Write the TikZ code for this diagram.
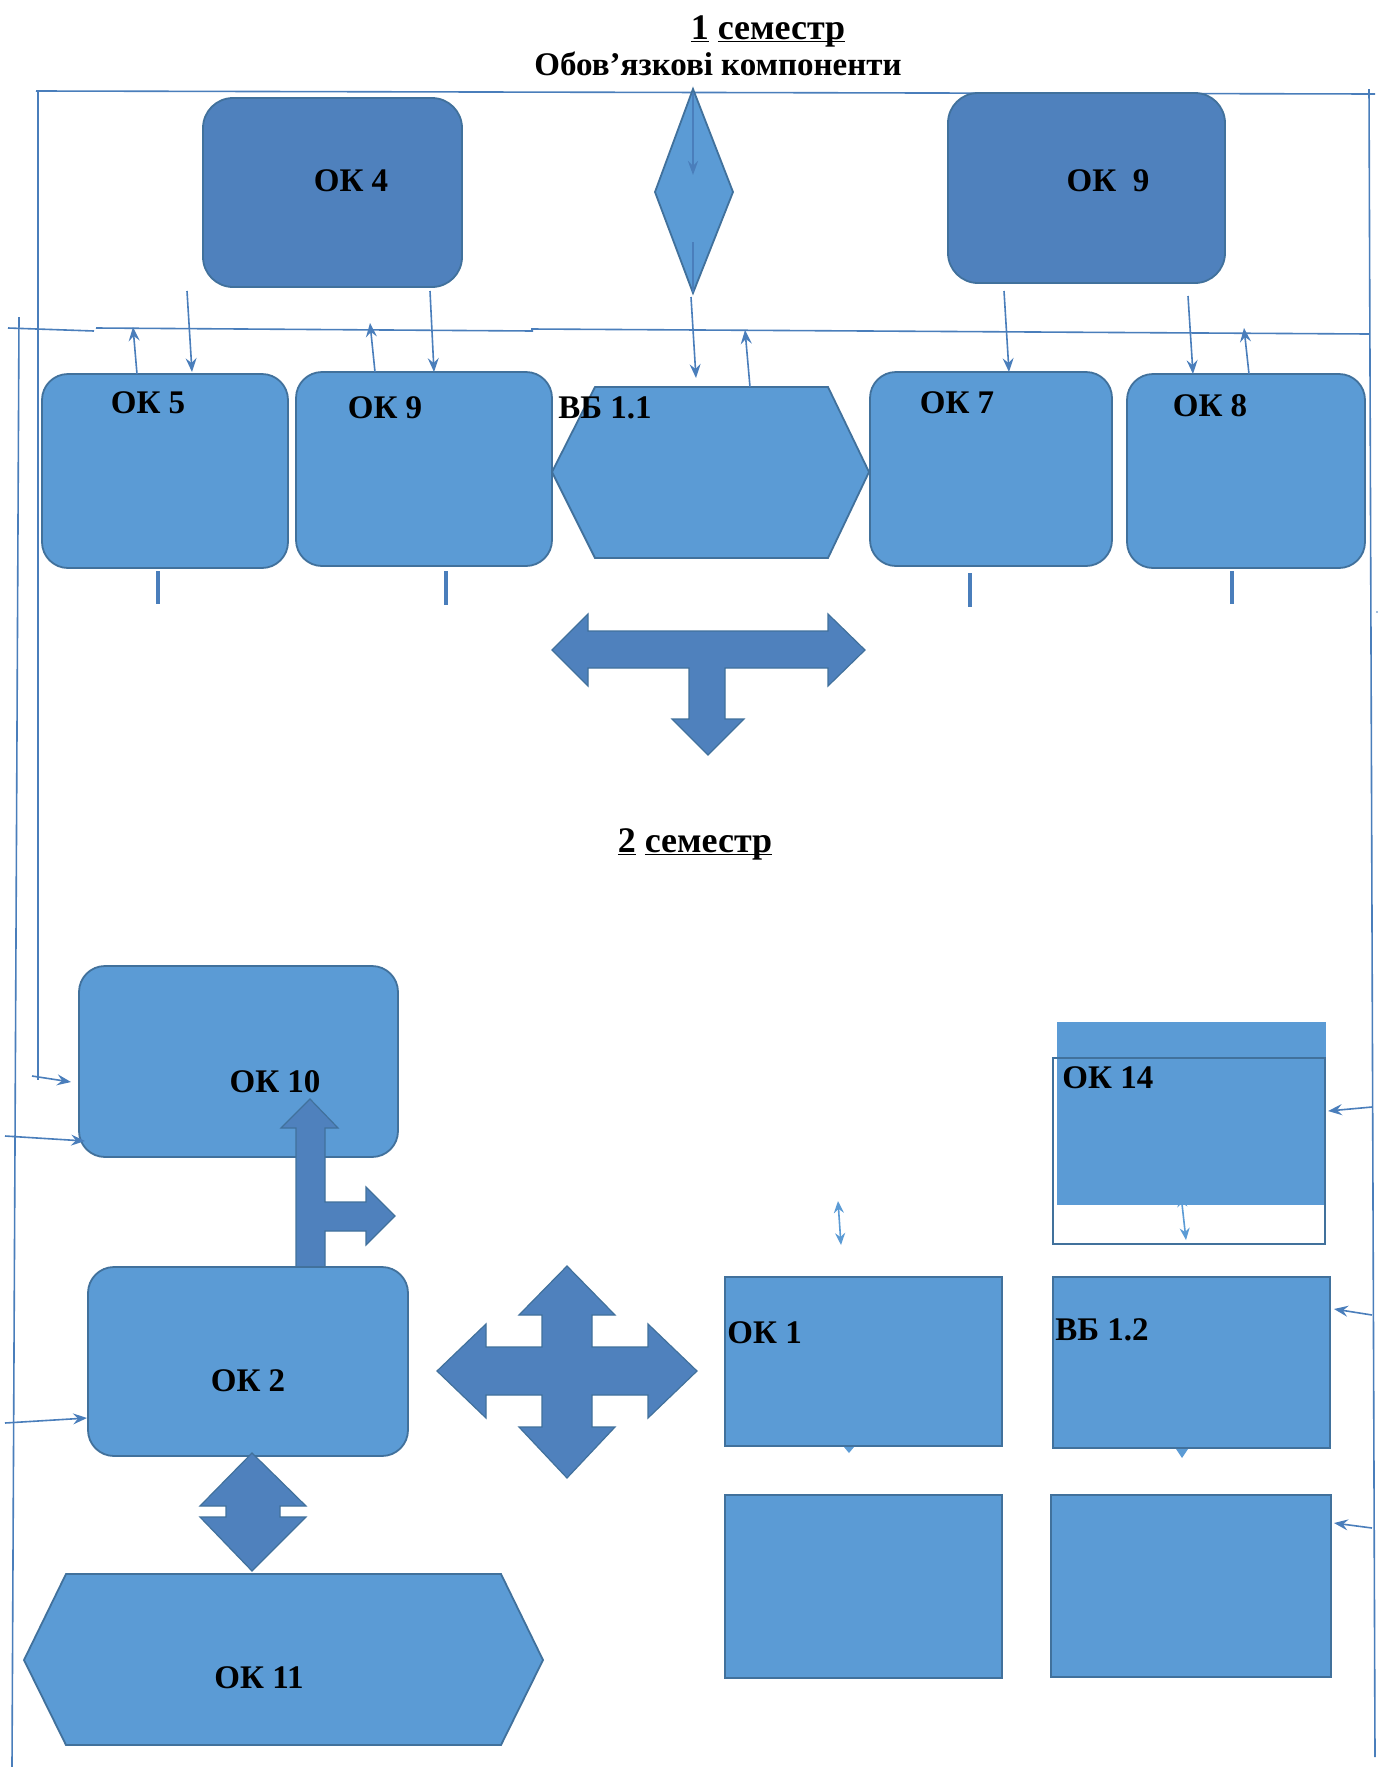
\documentclass[tikz,border=0pt]{standalone}
\usepackage{fontspec}
\setmainfont{Liberation Serif}
\usetikzlibrary{arrows.meta,fit}
\definecolor{darkfill}{RGB}{79,129,189}
\definecolor{lightfill}{RGB}{91,155,213}
\definecolor{bordc}{RGB}{65,113,156}
\definecolor{linec}{RGB}{74,126,187}
\newcommand\myul[1]{\underline{\smash{#1}}}
\begin{document}
\begin{tikzpicture}[x=0.5pt,y=-0.5pt,
  rbox/.style={draw=bordc, line width=0.9pt, fill=lightfill, rounded corners=13pt, inner sep=0pt, outer sep=0pt},
  dbox/.style={rbox, fill=darkfill, rounded corners=15pt},
  sbox/.style={draw=bordc, line width=1pt, fill=lightfill, inner sep=0pt, outer sep=0pt},
  lbl/.style={font=\fontsize{16.5}{18}\selectfont\bfseries, inner sep=0pt, anchor=base},
  ttl/.style={font=\fontsize{18}{20}\selectfont\bfseries, inner sep=0pt, anchor=base},
  conn/.style={draw=linec, line width=0.8pt, -{Stealth[length=7pt,width=5.5pt,inset=2.5pt]}},
  dbl/.style={draw=lightfill, line width=0.8pt, {Stealth[length=6pt,width=5pt,inset=2pt]}-{Stealth[length=6pt,width=5pt,inset=2pt]}},
  tick/.style={draw=linec, line width=2pt},
  frame/.style={draw=linec, line width=0.8pt},
  barrow/.style={draw=bordc, line width=0.6pt, fill=darkfill, line join=miter},
  hexa/.style={draw=bordc, line width=0.9pt, fill=lightfill, line join=miter}]

\useasboundingbox[fill=white] (0,0) rectangle (1385,1767);

% ---------- titles ----------
\node[ttl] (sem1) at (768,39) {\myul{1} \myul{семестр}};
\node[lbl] (obov) at (718,75) {Обов’язкові компоненти};
\node[ttl] (sem2) at (695,852) {\myul{2} \myul{семестр}};

% ---------- frame lines ----------
\coordinate (ftl) at (36,91);   \coordinate (ftr) at (1375,94);
\coordinate (frt) at (1369,89); \coordinate (frb) at (1375,1757);
\coordinate (fli) at (38,91);   \coordinate (flib) at (38,1080);
\coordinate (flo) at (19,317);  \coordinate (flob) at (12,1767);
\draw[frame] (ftl) -- (ftr);
\draw[frame] (frt) -- (frb);
\draw[frame] (fli) -- (flib);
\draw[frame] (flo) -- (flob);
\coordinate (d1a) at (8,328);   \coordinate (d1b) at (94,331);
\coordinate (d2a) at (96,328);  \coordinate (d2b) at (533,331);
\coordinate (d3a) at (531,329); \coordinate (d3b) at (1369,334);
\draw[frame] (d1a) -- (d1b);
\draw[frame] (d2a) -- (d2b);
\draw[frame] (d3a) -- (d3b);
\fill[linec] (1377,612) circle (0.8);

% ---------- semester 1, top row ----------
\node[dbox, fit={(203,98) (462,287)}] (ok4) {};
\node[lbl] (ok4t) at (351,191) {ОК 4};
\node[dbox, fit={(948,93) (1225,283)}] (ok9a) {};
\node[lbl] (ok9at) at (1108,191) {ОК\ \ 9};

\draw[hexa] (693,89) -- (733,192) -- (693,293) -- (655,192) -- cycle;
\coordinate (dm1) at (693,93);  \coordinate (dm2) at (693,175);
\coordinate (dm3) at (693,242); \coordinate (dm4) at (693,292);
\draw[draw=linec, line width=1.2pt, -{Stealth[length=7pt,width=5pt,inset=2.5pt]}] (dm1) -- (dm2);
\draw[draw=linec, line width=1.2pt] (dm3) -- (dm4);

% ---------- semester 1, second row ----------
\node[rbox, fit={(42,374) (288,568)}] (ok5) {};
\node[lbl] (ok5t) at (148,413) {ОК 5};
\node[rbox, fit={(296,372) (552,566)}] (ok9b) {};
\node[lbl] (ok9bt) at (385,418) {ОК 9};
\draw[hexa] (552,472) -- (595,387) -- (828,387) -- (869,472) -- (828,558) -- (595,558) -- cycle;
\node[lbl, anchor=base west] (vb11t) at (558,418) {ВБ 1.1};
\node[rbox, fit={(870,372) (1112,566)}] (ok7) {};
\node[lbl] (ok7t) at (957,413) {ОК 7};
\node[rbox, fit={(1127,374) (1365,568)}] (ok8) {};
\node[lbl] (ok8t) at (1210,416) {ОК 8};

% connectors between rows
\coordinate (a1s) at (187,291);  \coordinate (a1e) at (192,372);
\coordinate (a2s) at (430,291);  \coordinate (a2e) at (434,372);
\coordinate (u1s) at (137,374);  \coordinate (u1e) at (133,327);
\coordinate (u2s) at (375,372);  \coordinate (u2e) at (370,323);
\coordinate (a3s) at (691,297);  \coordinate (a3e) at (696,378);
\coordinate (u3s) at (750,387);  \coordinate (u3e) at (745,330);
\coordinate (a4s) at (1004,291); \coordinate (a4e) at (1009,372);
\coordinate (a5s) at (1188,296); \coordinate (a5e) at (1193,374);
\coordinate (u4s) at (1249,374); \coordinate (u4e) at (1244,328);
\foreach \s/\e in {a1s/a1e,a2s/a2e,u1s/u1e,u2s/u2e,a3s/a3e,u3s/u3e,a4s/a4e,a5s/a5e,u4s/u4e}
  \draw[conn] (\s) -- (\e);

% ticks under boxes
\coordinate (k1a) at (158,571);  \coordinate (k1b) at (158,604);
\coordinate (k2a) at (446,571);  \coordinate (k2b) at (446,605);
\coordinate (k3a) at (970,573);  \coordinate (k3b) at (970,607);
\coordinate (k4a) at (1232,571); \coordinate (k4b) at (1232,604);
\draw[tick] (k1a) -- (k1b);
\draw[tick] (k2a) -- (k2b);
\draw[tick] (k3a) -- (k3b);
\draw[tick] (k4a) -- (k4b);

% T block arrow
\draw[barrow] (552,650) -- (588,614) -- (588,631) -- (828,631) -- (828,614) -- (865,650)
  -- (828,686) -- (828,668) -- (725,668) -- (725,719) -- (744,719) -- (708,755)
  -- (672,719) -- (689,719) -- (689,668) -- (588,668) -- (588,686) -- cycle;

% ---------- semester 2 ----------
\node[rbox, fit={(79,966) (398,1157)}] (ok10) {};
\node[lbl] (ok10t) at (275,1092) {ОК 10};

% up/right block arrow from OK2 to OK10
\draw[barrow] (296,1267) -- (296,1128) -- (281,1128) -- (310,1099) -- (338,1128) -- (325,1128)
  -- (325,1202) -- (366,1202) -- (366,1187) -- (395,1216) -- (366,1245) -- (366,1231)
  -- (325,1231) -- (325,1267) -- cycle;

\node[rbox, fit={(88,1267) (408,1456)}] (ok2) {};
\node[lbl] (ok2t) at (248,1391) {ОК 2};

% four-way block arrow
\draw[barrow] (567,1266) -- (615,1315) -- (592,1315) -- (592,1347) -- (648,1347) -- (648,1324)
  -- (697,1371) -- (648,1418) -- (648,1395) -- (592,1395) -- (592,1427) -- (615,1427)
  -- (567,1478) -- (519,1427) -- (542,1427) -- (542,1395) -- (486,1395) -- (486,1418)
  -- (437,1371) -- (486,1324) -- (486,1347) -- (542,1347) -- (542,1315) -- (519,1315) -- cycle;

% up-down block arrow
\draw[barrow] (252,1453) -- (306,1506) -- (280,1506) -- (280,1517) -- (306,1517) -- (252,1571)
  -- (200,1517) -- (226,1517) -- (226,1506) -- (200,1506) -- cycle;

% OK 11 hexagon
\draw[hexa] (24,1660) -- (66,1574) -- (501,1574) -- (543,1660) -- (501,1745) -- (66,1745) -- cycle;
\node[lbl] (ok11t) at (259,1688) {ОК 11};

% right column
\fill[lightfill] (1057,1022) rectangle (1326,1205);
\node[draw=bordc, line width=1pt, inner sep=0pt, outer sep=0pt, fit={(1053,1058) (1325,1244)}] (ok14) {};
\node[lbl, anchor=base west] (ok14t) at (1062,1088) {ОК 14};

\node[sbox, fit={(725,1277) (1002,1446)}] (ok1) {};
\node[lbl, anchor=base west] (ok1t) at (727,1343) {ОК 1};
\node[sbox, fit={(1053,1277) (1330,1448)}] (vb12) {};
\node[lbl, anchor=base west] (vb12t) at (1055,1340) {ВБ 1.2};
\node[sbox, fit={(725,1495) (1002,1678)}] (bx1) {};
\node[sbox, fit={(1051,1495) (1331,1677)}] (bx2) {};

% tiny arrow remnants below OK1 / ВБ1.2
\fill[lightfill] (844,1447) -- (854,1447) -- (849,1453) -- cycle;
\fill[lightfill] (1176,1449) -- (1188,1449) -- (1182,1458) -- cycle;

% small double arrows
\coordinate (db1a) at (838,1201); \coordinate (db1b) at (841,1245);
\coordinate (db2a) at (1181,1195); \coordinate (db2b) at (1186,1240);
\draw[dbl] (db1a) -- (db1b);
\draw[dbl] (db2a) -- (db2b);

% side connectors
\coordinate (l1s) at (32,1076);  \coordinate (l1e) at (71,1082);
\coordinate (l2s) at (5,1136);   \coordinate (l2e) at (85,1141);
\coordinate (l3s) at (5,1423);   \coordinate (l3e) at (87,1418);
\coordinate (r1s) at (1372,1107); \coordinate (r1e) at (1328,1111);
\coordinate (r2s) at (1372,1315); \coordinate (r2e) at (1334,1309);
\coordinate (r3s) at (1372,1528); \coordinate (r3e) at (1334,1523);
\foreach \s/\e in {l1s/l1e,l2s/l2e,l3s/l3e,r1s/r1e,r2s/r2e,r3s/r3e}
  \draw[conn] (\s) -- (\e);
\end{tikzpicture}
\end{document}
